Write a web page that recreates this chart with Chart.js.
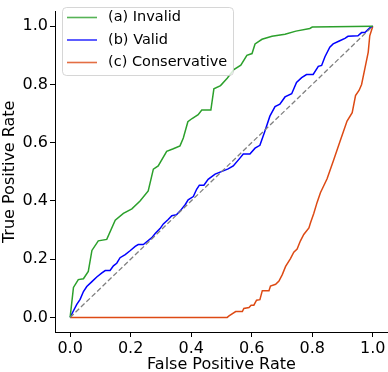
<!DOCTYPE html>
<html>
<head>
<meta charset="utf-8">
<script src="https://cdn.jsdelivr.net/npm/chart.js@4/dist/chart.umd.min.js"></script>
<style>
html,body{margin:0;padding:0;background:#fff;}
#wrap{width:388px;height:372px;}
</style>
</head>
<body>
<div id="wrap"><canvas id="c" width="388" height="372"></canvas></div>
<script>
const seriesLabels = ['(a) Invalid', '(b) Valid', '(c) Conservative'];
const tickValues = [0, 0.2, 0.4, 0.6, 0.8, 1.0];

const invalidFPR = [0,0.011,0.027,0.044,0.06,0.072,0.093,0.121,0.149,0.176,0.204,0.231,0.258,0.275,0.291,0.319,0.341,0.363,0.374,0.389,0.403,0.423,0.435,0.465,0.475,0.497,0.519,0.541,0.564,0.584,0.601,0.611,0.634,0.667,0.71,0.746,0.792,0.80,1.0];
const invalidTPR = [0,0.103,0.13,0.133,0.158,0.23,0.263,0.268,0.334,0.357,0.373,0.40,0.434,0.509,0.52,0.57,0.579,0.589,0.616,0.672,0.683,0.696,0.712,0.712,0.785,0.796,0.821,0.851,0.866,0.90,0.906,0.939,0.955,0.965,0.972,0.983,0.992,0.997,1.0];

const validFPR = [0,0.011,0.022,0.033,0.044,0.055,0.072,0.088,0.105,0.116,0.132,0.143,0.154,0.165,0.182,0.198,0.215,0.225,0.242,0.253,0.27,0.281,0.297,0.308,0.324,0.336,0.352,0.363,0.38,0.39,0.407,0.418,0.427,0.442,0.456,0.479,0.506,0.522,0.539,0.561,0.572,0.594,0.611,0.627,0.644,0.66,0.677,0.693,0.71,0.732,0.748,0.765,0.781,0.803,0.82,0.831,0.842,0.858,0.869,0.891,0.908,0.918,0.951,0.963,0.974,0.99,1.0];
const validTPR = [0,0.023,0.045,0.062,0.089,0.106,0.123,0.139,0.153,0.161,0.161,0.177,0.186,0.205,0.216,0.229,0.244,0.25,0.25,0.26,0.274,0.288,0.305,0.321,0.336,0.349,0.353,0.365,0.387,0.404,0.415,0.44,0.454,0.454,0.474,0.492,0.503,0.51,0.52,0.547,0.561,0.561,0.581,0.591,0.641,0.691,0.724,0.732,0.757,0.768,0.807,0.823,0.834,0.834,0.862,0.865,0.895,0.928,0.939,0.95,0.958,0.965,0.967,0.978,0.978,0.994,1.0];

const conservFPR = [0,0.519,0.525,0.547,0.569,0.574,0.591,0.598,0.607,0.616,0.627,0.635,0.657,0.662,0.679,0.69,0.701,0.712,0.728,0.739,0.75,0.761,0.772,0.789,0.794,0.805,0.816,0.827,0.849,0.871,0.893,0.915,0.932,0.943,0.955,0.963,0.974,0.985,0.99,1.0];
const conservTPR = [0,0,0.005,0.02,0.02,0.031,0.034,0.042,0.042,0.059,0.061,0.092,0.092,0.108,0.114,0.125,0.147,0.175,0.202,0.224,0.235,0.263,0.285,0.307,0.324,0.357,0.395,0.428,0.476,0.541,0.608,0.674,0.703,0.762,0.78,0.80,0.855,0.911,0.967,1.0];

const chanceFPR = [0, 1];
const chanceTPR = [0, 1];

const colors = ['#2ca02c', '#0000ff', '#dd4a14'];

function pts(xs, ys){ return xs.map((x,i)=>({x:x, y:ys[i]})); }

const FONT = "'DejaVu Sans', sans-serif";

const legendPlugin = {
  id: 'insideLegend',
  afterDatasetsDraw(chart){
    const ctx = chart.ctx;
    ctx.save();
    const x0 = 62.5, y0 = 7.5, w = 171, h = 68, r = 4;
    ctx.beginPath();
    ctx.moveTo(x0+r, y0);
    ctx.lineTo(x0+w-r, y0); ctx.arcTo(x0+w, y0, x0+w, y0+r, r);
    ctx.lineTo(x0+w, y0+h-r); ctx.arcTo(x0+w, y0+h, x0+w-r, y0+h, r);
    ctx.lineTo(x0+r, y0+h); ctx.arcTo(x0, y0+h, x0, y0+h-r, r);
    ctx.lineTo(x0, y0+r); ctx.arcTo(x0, y0, x0+r, y0, r);
    ctx.closePath();
    ctx.fillStyle = 'rgba(255,255,255,0.8)';
    ctx.fill();
    ctx.strokeStyle = 'rgba(204,204,204,0.8)';
    ctx.lineWidth = 1;
    ctx.stroke();
    ctx.font = '14.5px ' + FONT;
    ctx.textBaseline = 'middle';
    ctx.fillStyle = '#000';
    const rows = [17.5, 40, 62.5];
    seriesLabels.forEach((lab, i) => {
      ctx.strokeStyle = colors[i];
      ctx.globalAlpha = 0.8;
      ctx.lineWidth = 1.6;
      ctx.beginPath();
      ctx.moveTo(67, rows[i]); ctx.lineTo(97, rows[i]);
      ctx.stroke();
      ctx.globalAlpha = 1;
      ctx.fillText(lab, 108, rows[i]);
    });
    ctx.restore();
  }
};

const ds = (label, xs, ys, color) => ({
  label: label, data: pts(xs, ys), borderColor: color, backgroundColor: color,
  borderWidth: 1.5, pointRadius: 0, showLine: true, tension: 0, fill: false
});

new Chart(document.getElementById('c'), {
  type: 'scatter',
  data: {
    datasets: [
      Object.assign(ds('chance', chanceFPR, chanceTPR, '#808080'), {borderDash:[5,2.5], borderWidth:1.3}),
      ds(seriesLabels[0], invalidFPR, invalidTPR, colors[0]),
      ds(seriesLabels[1], validFPR, validTPR, colors[1]),
      ds(seriesLabels[2], conservFPR, conservTPR, colors[2])
    ]
  },
  options: {
    responsive: false,
    animation: false,
    layout: { padding: 0 },
    plugins: { legend: { display: false }, tooltip: { enabled: false } },
    scales: {
      x: {
        type: 'linear', min: -0.05, max: 1.05,
        afterBuildTicks: s => { s.ticks = tickValues.map(v => ({value: v})); },
        afterFit: s => { s.height = 40; },
        ticks: { callback: v => Number(v).toFixed(1), color: '#000', font: {family: FONT, size: 16}, padding: 2.5, maxRotation: 0, autoSkip: false },
        grid: { drawOnChartArea: false, drawTicks: true, tickLength: 5, color: '#000', lineWidth: 1 },
        border: { display: true, color: '#000', width: 1 },
        title: { display: true, text: 'False Positive Rate', color: '#000', font: {family: FONT, size: 16}, padding: {top: 0, bottom: -2} }
      },
      y: {
        type: 'linear', min: -0.05, max: 1.05,
        afterBuildTicks: s => { s.ticks = tickValues.map(v => ({value: v})); },
        afterFit: s => { s.width = 55; },
        ticks: { callback: v => Number(v).toFixed(1), color: '#000', font: {family: FONT, size: 16}, padding: 2, autoSkip: false },
        grid: { drawOnChartArea: false, drawTicks: true, tickLength: 5, color: '#000', lineWidth: 1 },
        border: { display: true, color: '#000', width: 1 },
        title: { display: true, text: 'True Positive Rate', color: '#000', font: {family: FONT, size: 16}, padding: {top: 0, bottom: 0} }
      }
    }
  },
  plugins: [legendPlugin]
});
</script>
</body>
</html>
